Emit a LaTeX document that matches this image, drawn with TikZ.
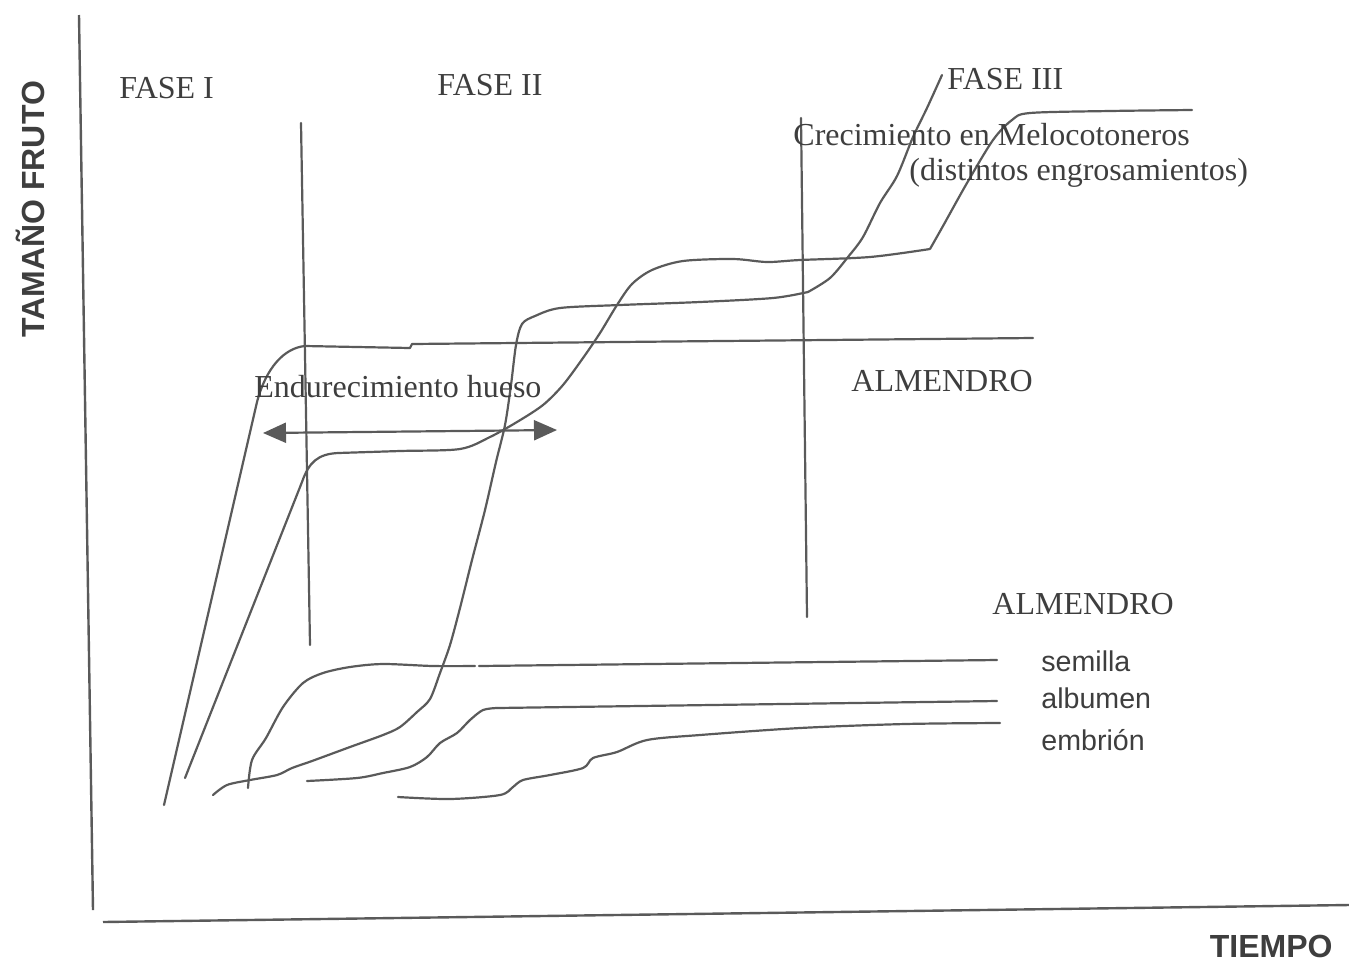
\documentclass[tikz,border=0pt]{standalone}
\usepackage{fontspec}
\setmainfont{Liberation Serif}
\setsansfont{Liberation Sans}
\usetikzlibrary{arrows.meta}
\definecolor{linegray}{HTML}{5A5A5A}
\definecolor{txtgray}{HTML}{3E3E3E}
\tikzset{
  curve/.style={draw=linegray, line width=1.1pt, line join=round, line cap=round},
  axisline/.style={draw=linegray, line width=1.2pt},
  serif/.style={font=\fontsize{16}{19}\selectfont, text=txtgray, inner sep=0pt, anchor=base west},
  sanslabel/.style={font=\sffamily\fontsize{14.3}{17}\selectfont, text=txtgray, inner sep=0pt, anchor=base west},
  axislabel/.style={font=\sffamily\bfseries\fontsize{16}{19}\selectfont, text=txtgray, inner sep=0pt},
  span/.style={draw=linegray, line width=1.1pt, {Triangle[length=11.5pt,width=10pt]}-{Triangle[length=11.5pt,width=10pt]}}
}
\begin{document}
\begin{tikzpicture}[x=0.5pt,y=-0.5pt]
\useasboundingbox (0,0) rectangle (1349,965);

% axes
\draw[axisline] (79,15) -- (93,910);
\draw[axisline] (103,922) -- (1349,905);
\node[axislabel, anchor=base east] (tiempo) at (1333,957) {TIEMPO};
\node[axislabel, rotate=90, anchor=base west] (tamano) at (44,338) {TAMAÑO FRUTO};

% phase boundaries
\draw[curve] (301,123) -- (310,645);
\draw[curve] (801,118) -- (807,617);

% phase titles
\node[serif] (f1) at (119,98) {FASE I};
\node[serif] (f2) at (437,95) {FASE II};
\node[serif] (f3) at (947,89) {FASE III};

% almond fruit
\draw[curve] (164,805) -- (257,402) .. controls (266,368) and (284,348) .. (305,346)
  -- (410,348) -- (412,344) -- (1033,338);

% peach, first type
\draw[curve] (185,778) -- (302,482) .. controls (309,462) and (318,454) .. (338,453)
  plot[smooth, tension=0.5] coordinates {(338,453) (400,451) (460,449) (490,437) (517,422)
  (543,405) (563,385) (583,358) (600,333) (617,305) (632,284) (652,270) (683,261)
  (733,259) (767,262) (800,260) (870,257) (930,249)}
  plot[smooth, tension=0.5] coordinates {(930,249) (943,226) (967,183) (993,140)
  (1012,120) (1030,113) (1110,111) (1192,110)};

% peach, second type
\draw[curve] plot[smooth, tension=0.5] coordinates {(213,795) (227,785) (250,780)
  (277,775) (292,768) (312,761) (350,747) (383,735) (400,727) (417,712) (430,699)
  (440,673) (450,645) (460,608) (472,560) (485,510) (496,462) (505,425) (511,385)
  (516,345) (522,324) (535,316) (560,308) (620,305) (700,302) (773,298) (808,292)};
\draw[curve] plot[smooth, tension=0.5] coordinates {(808,292) (830,278) (848,257)
  (863,237) (880,203) (897,176) (913,137) (927,108) (942,75)};

% almond seed parts
\draw[curve] plot[smooth, tension=0.5] coordinates {(248,788) (252,760) (266,738)
  (283,707) (303,683) (323,673) (350,667) (383,664) (433,666) (475,666)};
\draw[curve] (479,666) -- (997,660);
\draw[curve] plot[smooth, tension=0.5] coordinates {(307,781) (357,778) (383,773)
  (410,767) (427,757) (440,743) (457,733) (470,720) (483,710) (497,708)};
\draw[curve] (497,708) -- (997,701);
\draw[curve] plot[smooth, tension=0.5] coordinates {(398,797) (450,799) (500,795)
  (513,787) (523,780) (550,775) (583,768) (593,758) (617,752) (647,740) (700,735)
  (800,728) (905,724) (1000,723)};

% stone hardening span
\coordinate (hl) at (263,433);
\coordinate (hr) at (557,430);
\draw[span] (hl) -- (hr);
\node[serif] (hueso) at (254,397) {Endurecimiento hueso};

% curve labels
\node[serif] (melo) at (793,145) {Crecimiento en Melocotoneros};
\node[serif] (engr) at (909,180) {(distintos engrosamientos)};
\node[serif] (alm1) at (851,391) {ALMENDRO};
\node[serif] (alm2) at (992,614) {ALMENDRO};
\node[sanslabel] (sem) at (1041,671) {semilla};
\node[sanslabel] (alb) at (1041,708) {albumen};
\node[sanslabel] (emb) at (1041,750) {embrión};
\end{tikzpicture}
\end{document}
